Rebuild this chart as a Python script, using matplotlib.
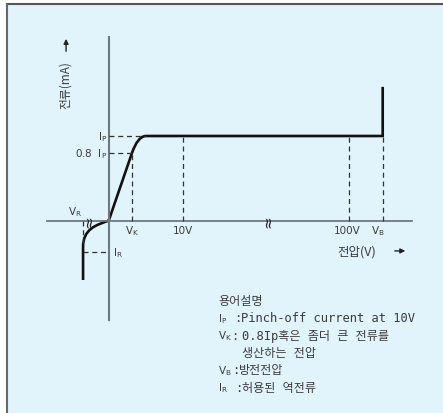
import matplotlib
matplotlib.use("Agg")
import matplotlib.pyplot as plt
from matplotlib.path import Path
from matplotlib.patches import PathPatch, Rectangle
from matplotlib.lines import Line2D

plt.rcParams['font.family'] = ['Noto Sans CJK KR', 'DejaVu Sans']

# 도식용 값 (x: 전압 위치, y: 전류 / Ip)
v_knee = 1.0
v_flat = 1.6
v_10 = 3.18
v_100 = 10.3
v_b = 11.76
v_r = -1.1
i_p = 1.0
i_knee = 0.8
i_r = -0.37
i_b_top = 1.58
i_rev_end = -0.70
i_rev_knee = -0.31
break_x = [-0.84, 6.84]

x_axis = [-2.65, 13.0]
y_axis = [-1.17, 2.17]

# 정방향 곡선 (직선 -> 곡선 -> 평탄 -> 항복)
fwd_verts = [(0, 0), (v_knee, i_knee), (1.25, i_p), (v_flat, i_p),
             (v_b, i_p), (v_b, i_b_top)]
fwd_codes = [Path.MOVETO, Path.LINETO, Path.CURVE3, Path.CURVE3,
             Path.LINETO, Path.LINETO]
# 역방향 곡선
rev_verts = [(0, 0), (-0.55, -0.05), (v_r, -0.1), (v_r, i_rev_knee),
             (v_r, i_rev_end)]
rev_codes = [Path.MOVETO, Path.CURVE4, Path.CURVE4, Path.CURVE4, Path.LINETO]

# 용어설명
legend_title = '용어설명'
legend_keys = [r'$\mathregular{I_P}$', r'$\mathregular{V_K}$', '',
               r'$\mathregular{V_B}$', r'$\mathregular{I_R}$']
legend_seps = [':', ':', '', ':', ':']
legend_texts = ['Pinch-off current at 10V', '0.8Ip혹은 좀더 큰 전류를',
                '생산하는 전압', '방전전압', '허용된 역전류']
sep_px = [234, 231, 0, 232, 235]
text_px = [241, 242, 242, 239, 242]

text_c = '#3c3c3c'
bg = '#e1f3fb'

fig = plt.figure(figsize=(4.43, 4.14), dpi=100)
fig.patch.set_facecolor('white')
W, H = 443.0, 414.0
fig.patches.append(Rectangle((6.5 / W, 0), 1, 1 - 4.5 / H, transform=fig.transFigure,
                             facecolor=bg, edgecolor='none', zorder=-2))
fig.lines.append(Line2D([6.5 / W, 1], [1 - 4.5 / H, 1 - 4.5 / H], transform=fig.transFigure,
                        color='#555555', lw=1.5, zorder=-1))
fig.lines.append(Line2D([6.5 / W, 6.5 / W], [0, 1 - 4.5 / H], transform=fig.transFigure,
                        color='#666666', lw=1.5, zorder=-1))

ax = fig.add_axes([0, 0, 1, 1])
ax.set_xlim(-4.665, 14.348)
ax.set_ylim(-2.2704, 2.6175)
ax.axis('off')
ax.patch.set_alpha(0)

# 축
ax.plot(x_axis, [0, 0], color='#6e7880', lw=1.3)
ax.plot([0, 0], y_axis, color='#6e7880', lw=1.5)

# 점선
dash = dict(color='#333333', lw=0.9, ls=(0, (4, 3)))
ax.plot([0, v_flat], [i_p, i_p], **dash)
ax.plot([0, v_knee], [i_knee, i_knee], **dash)
ax.plot([v_knee, v_knee], [0, i_knee], **dash)
for v in [v_10, v_100, v_b]:
    ax.plot([v, v], [0, i_p], **dash)
ax.plot([v_r, v_r], [0, i_rev_knee], **dash)
ax.plot([v_r, 0], [i_r, i_r], **dash)

# 곡선
ax.add_patch(PathPatch(Path(fwd_verts, fwd_codes), facecolor='none',
                       edgecolor='#111111', lw=1.9, capstyle='butt', joinstyle='miter'))
ax.add_patch(PathPatch(Path(rev_verts, rev_codes), facecolor='none',
                       edgecolor='#111111', lw=1.9, capstyle='butt'))

# 축 생략 표시
for bx in break_x:
    ax.text(bx, 0, '≈', rotation=90, ha='center', va='center', fontsize=11,
            color='#222222', family='DejaVu Sans')

lab = dict(color=text_c, fontsize=7.5, family='DejaVu Sans')
ax.text(-0.07, i_p, r'$\mathregular{I_P}$', ha='right', va='center', **lab)
ax.text(-0.07, i_knee, r'0.8  $\mathregular{I_P}$', ha='right', va='center', **lab)
ax.text(v_r - 0.05, 0.03, r'$\mathregular{V_R}$', ha='right', va='bottom', **lab)
ax.text(0.2, i_r, r'$\mathregular{I_R}$', ha='left', va='center', **lab)
ax.text(v_knee, -0.11, r'$\mathregular{V_K}$', ha='center', va='center', **lab)
ax.text(v_10, -0.11, '10V', ha='center', va='center', **lab)
ax.text(v_100 - 0.05, -0.11, '100V', ha='center', va='center', **lab)
ax.text(v_b - 0.2, -0.11, r'$\mathregular{V_B}$', ha='center', va='center', **lab)

# 축 제목과 화살표
ax.text(-1.876, 1.608, '전류(mA)', rotation=90, ha='center', va='center',
        fontsize=8.5, color=text_c)
ax.annotate('', xy=(-1.83, 2.18), xytext=(-1.83, 1.968),
            arrowprops=dict(arrowstyle='-|>', color='#222222', lw=1.0, mutation_scale=7))
ax.text(10.66, -0.357, '전압(V)', ha='center', va='center', fontsize=9, color=text_c)
ax.annotate('', xy=(12.85, -0.357), xytext=(12.16, -0.357),
            arrowprops=dict(arrowstyle='-|>', color='#222222', lw=1.0, mutation_scale=7))

leg = dict(ha='left', va='center', fontsize=8.7, color=text_c,
           family=['DejaVu Sans Mono', 'Noto Sans CJK KR'])
fig.text(218 / W, 1 - 301.7 / H, legend_title, **leg)
for k in range(len(legend_texts)):
    y = 1 - (319.0 + 17.3 * k) / H
    if legend_keys[k]:
        fig.text(218 / W, y, legend_keys[k], ha='left', va='center', fontsize=7.5,
                 color=text_c, family='DejaVu Sans')
        fig.text(sep_px[k] / W, y, legend_seps[k], **leg)
    fig.text(text_px[k] / W, y, legend_texts[k], **leg)

fig.savefig('out.png', dpi=100, facecolor='white')
